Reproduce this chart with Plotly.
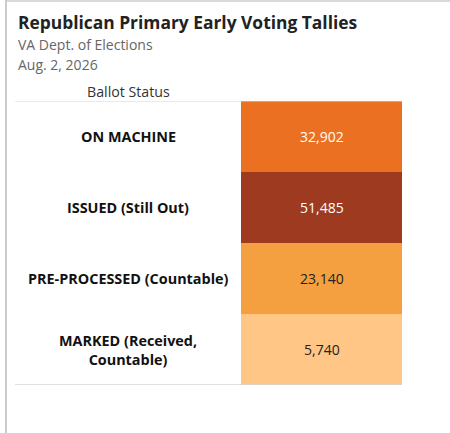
import plotly.graph_objects as go

# ballot status rows, top to bottom
statuses = ["ON MACHINE", "ISSUED (Still Out)", "PRE-PROCESSED (Countable)", "MARKED (Received,<br>Countable)"]
tallies = [32902, 51485, 23140, 5740]
value_colors = ["#ffffff", "#ffffff", "#222222", "#222222"]

W, H = 450, 433
FONT = "Open Sans"

lo, hi = min(tallies), max(tallies)
# colour ramp from light peach to dark rust, stops set at the middle values
ramp = ["#FFC685", "#F5A040", "#EC7022", "#9D3A20"]
stops = sorted(tallies)
colorscale = [[(v - lo) / (hi - lo), c] for v, c in zip(stops, ramp)]

fig = go.Figure()
fig.add_trace(go.Heatmap(
    z=[[v] for v in tallies],
    x=["Tally"],
    y=statuses,
    zmin=lo, zmax=hi,
    colorscale=colorscale,
    showscale=False,
    hoverinfo="skip",
))

fig.update_xaxes(domain=[241 / W, 402 / W], range=[-0.5, 0.5], visible=False)
fig.update_yaxes(domain=[1 - 385 / H, 1 - 101 / H], range=[3.5, -0.5], visible=False)

annotations = []
# values inside the coloured cells, labels centred in the left column
for s, v, c in zip(statuses, tallies, value_colors):
    annotations.append(dict(x="Tally", y=s, xref="x", yref="y", text=f"{v:,}", showarrow=False,
                            font=dict(family=FONT, size=14, color=c)))
    annotations.append(dict(x=128 / W, y=s, xref="paper", yref="y", xanchor="center",
                            text=f"<b>{s}</b>", showarrow=False,
                            font=dict(family=FONT, size=14.4, color="#111111")))

annotations += [
    dict(x=16 / W, y=1 - 22 / H, xref="paper", yref="paper", xanchor="left", yanchor="middle",
         text="<b>Republican Primary Early Voting Tallies</b>", showarrow=False,
         font=dict(family=FONT, size=17.4, color="#222222")),
    dict(x=16 / W, y=1 - 45 / H, xref="paper", yref="paper", xanchor="left", yanchor="middle",
         text="VA Dept. of Elections", showarrow=False, font=dict(family=FONT, size=14, color="#666666")),
    dict(x=16 / W, y=1 - 64 / H, xref="paper", yref="paper", xanchor="left", yanchor="middle",
         text="Aug. 2, 2026", showarrow=False, font=dict(family=FONT, size=14, color="#666666")),
    dict(x=128 / W, y=1 - 91 / H, xref="paper", yref="paper", xanchor="center", yanchor="middle",
         text="Ballot Status", showarrow=False, font=dict(family=FONT, size=14.2, color="#333333")),
]

shapes = [
    # table top and bottom rules
    dict(type="line", xref="paper", yref="y", x0=15 / W, x1=402 / W, y0=-0.5, y1=-0.5,
         line=dict(color="#d6d6d6", width=1)),
    dict(type="line", xref="paper", yref="y", x0=15 / W, x1=402 / W, y0=3.5, y1=3.5,
         line=dict(color="#d6d6d6", width=1.5)),
    # frame on the left and top edge
    dict(type="line", xref="paper", yref="paper", x0=6 / W, x1=6 / W, y0=0, y1=1,
         line=dict(color="#cccccc", width=2)),
    dict(type="line", xref="paper", yref="paper", x0=6 / W, x1=1, y0=1 - 1 / H, y1=1 - 1 / H,
         line=dict(color="#cccccc", width=1.5)),
]

fig.update_layout(
    width=W, height=H, autosize=False,
    margin=dict(l=0, r=0, t=0, b=0),
    paper_bgcolor="white", plot_bgcolor="white",
    annotations=annotations, shapes=shapes,
    showlegend=False,
)

# drop the browser's default body margin so the figure sits at the window corner
fig.write_html("out.html", config={"displayModeBar": False},
               post_script="document.body.style.margin='0';")
